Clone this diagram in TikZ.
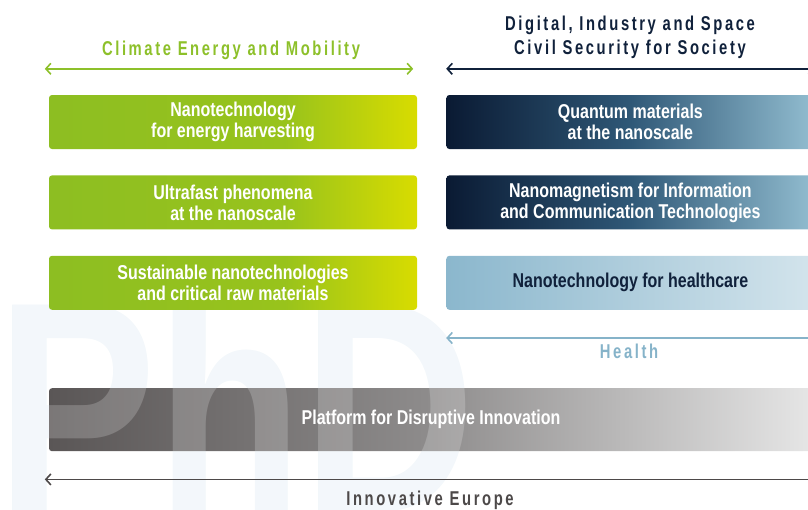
\documentclass[tikz,border=0pt]{standalone}
\usepackage{fontspec}
\usepackage{tikz}
\usetikzlibrary{positioning,arrows.meta,calc,backgrounds}

\newfontfamily\boxfont[FakeStretch=0.8]{Liberation Sans}
\newfontfamily\headfont[FakeStretch=0.74,LetterSpace=13]{Liberation Sans}

\definecolor{greenA}{HTML}{8DBE22}
\definecolor{greenM}{HTML}{98C31C}
\definecolor{greenB}{HTML}{D8DC00}
\definecolor{navyA}{HTML}{0A1A33}
\definecolor{navyM}{HTML}{2F5877}
\definecolor{navyB}{HTML}{92BDD0}
\definecolor{healA}{HTML}{8BB7CD}
\definecolor{healB}{HTML}{D3E4EC}
\definecolor{greyA}{HTML}{5A5656}
\definecolor{greyM}{HTML}{8E8C8C}
\definecolor{greyB}{HTML}{E6E6E6}
\definecolor{greentext}{HTML}{8DC02A}
\definecolor{navytext}{HTML}{10213B}
\definecolor{healtext}{HTML}{86B3C9}
\definecolor{greytext}{HTML}{4D4949}
\definecolor{phdmark}{HTML}{F0F6FA}

\pgfdeclarehorizontalshading{greenbar}{100bp}{color(0bp)=(greenA); color(25bp)=(greenA); color(57bp)=(greenM); color(75bp)=(greenB); color(100bp)=(greenB)}
\pgfdeclarehorizontalshading{navybar}{100bp}{color(0bp)=(navyA); color(25bp)=(navyA); color(50bp)=(navyM); color(75bp)=(navyB); color(100bp)=(navyB)}
\pgfdeclarehorizontalshading{healthbar}{100bp}{color(0bp)=(healA); color(25bp)=(healA); color(75bp)=(healB); color(100bp)=(healB)}
\pgfdeclarehorizontalshading{greybar}{100bp}{color(0bp)=(greyA); color(25bp)=(greyA); color(50bp)=(greyM); color(75bp)=(greyB); color(100bp)=(greyB)}

\tikzset{
  topic/.style={rectangle, rounded corners=3pt, minimum width=368pt, minimum height=54pt, inner sep=0pt, align=center, text=white, font=\boxfont\bfseries\fontsize{20}{21}\selectfont},
  climate/.style={topic, shading=greenbar},
  digital/.style={topic, shading=navybar},
  health/.style={topic, shading=healthbar, text=navytext},
  header/.style={inner sep=0pt, align=center, font=\headfont\bfseries\fontsize{20}{24}\selectfont},
  watermark/.style={anchor=base west, inner sep=0pt, font=\boxfont\bfseries\fontsize{300}{300}\selectfont},
  span/.style={line width=1.6pt, {Straight Barb[length=5pt,width=11pt]}-{Straight Barb[length=5pt,width=11pt]}}
}

\begin{document}
\begin{tikzpicture}[x=1pt, y=-1pt]
    \useasboundingbox (0,0) rectangle (808,509);
    \clip (0,0) rectangle (808,509);

    % Nodes
    \node[climate] (energy) at (233,122) {Nanotechnology\\for energy harvesting};
    \node[climate, below=26pt of energy] (ultrafast) {Ultrafast phenomena\\at the nanoscale};
    \node[climate, below=26pt of ultrafast] (sustain) {Sustainable nanotechnologies\\and critical raw materials};
    \node[digital, right=29pt of energy] (quantum) {Quantum materials\\at the nanoscale};
    \node[digital, right=29pt of ultrafast] (magnet) {Nanomagnetism for Information\\and Communication Technologies};
    \node[health, right=29pt of sustain] (healthcare) {Nanotechnology for healthcare};

    % Watermark and platform
    \begin{scope}[on background layer]
      \node[watermark, text=phdmark] (phd) at (-4,511) {PhD};
      \node[topic, shading=greybar, minimum width=764pt, minimum height=63pt, anchor=north west] (platform) at ([yshift=-78pt]sustain.south west) {Platform for Disruptive Innovation};
      \node[watermark, text=white, text opacity=0.2] (phd-over) at (-4,511) {PhD};
    \end{scope}

    % Spans
    \coordinate (cem-l) at ([xshift=-4pt, yshift=26pt]energy.north west);
    \coordinate (cem-r) at ([xshift=-4pt, yshift=26pt]energy.north east);
    \coordinate (dis-l) at ([yshift=26pt]quantum.north west);
    \coordinate (dis-r) at ([yshift=26pt]quantum.north east);
    \coordinate (hea-l) at ([yshift=-28pt]healthcare.south west);
    \coordinate (hea-r) at ([yshift=-28pt]healthcare.south east);
    \coordinate (eur-l) at ([xshift=-4pt, yshift=-28pt]platform.south west);
    \coordinate (eur-r) at ([xshift=2pt, yshift=-28pt]platform.south east);
    \draw[span, greentext] (cem-l) -- (cem-r);
    \draw[span, navytext] (dis-l) -- (dis-r);
    \draw[span, healtext] (hea-l) -- (hea-r);
    \draw[span, greytext] (eur-l) -- (eur-r);

    % Labels
    \node[header, text=greentext, anchor=base] (cem) at (231,55) {Climate Energy and Mobility};
    \node[header, text=navytext] (dis) at (630,37) {Digital, Industry and Space\\Civil Security for Society};
    \node[header, text=healtext, anchor=base] (hea) at (629,358) {Health};
    \node[header, text=greytext, anchor=base] (eur) at (430,505) {Innovative Europe};
\end{tikzpicture}
\end{document}
